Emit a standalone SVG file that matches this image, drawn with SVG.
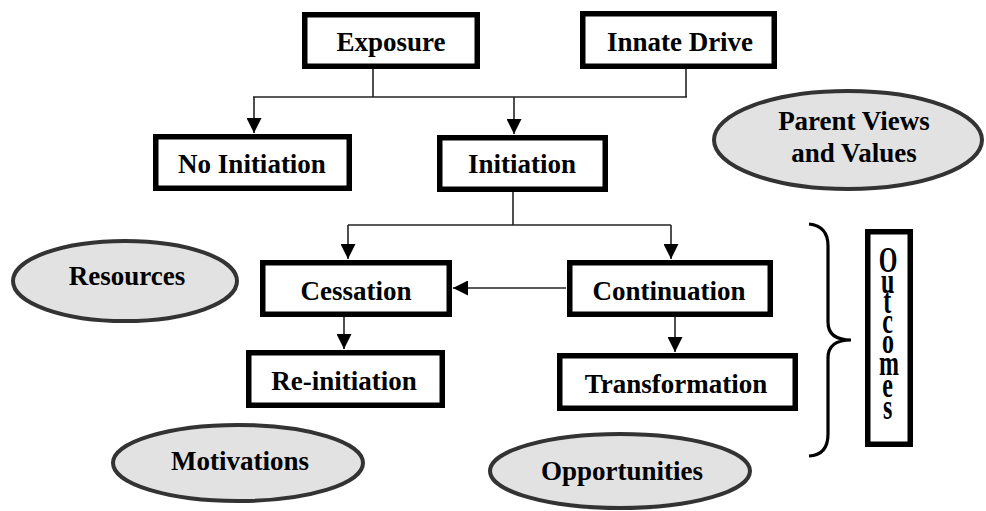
<svg xmlns="http://www.w3.org/2000/svg" width="986" height="511" viewBox="0 0 986 511">
<style>
.box{fill:#fff;stroke:#000;stroke-width:5.5}
.ell{fill:#e2e2e2;stroke:#333;stroke-width:4}
.t{font-family:"Liberation Serif","Times New Roman",serif;font-weight:bold;font-size:27px;fill:#000;text-anchor:middle}
.o{font-family:"Liberation Serif","Times New Roman",serif;font-weight:bold;font-size:24px;fill:#000}
.c{fill:none;stroke:#222;stroke-width:1.6}
</style>
<defs>
<marker id="ah" markerUnits="userSpaceOnUse" markerWidth="15" markerHeight="15" refX="15" refY="7.5" orient="auto">
<path d="M0,0 L15,7.5 L0,15 z" fill="#000"/>
</marker>
</defs>
<rect width="986" height="511" fill="#fff"/>
<g id="connectors">
<line class="c" x1="373" y1="69" x2="373" y2="97"/>
<line class="c" x1="686" y1="69" x2="686" y2="97"/>
<line class="c" x1="253" y1="97" x2="687" y2="97"/>
<line class="c" x1="254" y1="97" x2="254" y2="133" marker-end="url(#ah)"/>
<line class="c" x1="514" y1="97" x2="514" y2="134" marker-end="url(#ah)"/>
<line class="c" x1="513" y1="192" x2="513" y2="225"/>
<line class="c" x1="348" y1="225" x2="671" y2="225"/>
<line class="c" x1="348" y1="225" x2="348" y2="259" marker-end="url(#ah)"/>
<line class="c" x1="671" y1="225" x2="671" y2="259" marker-end="url(#ah)"/>
<line class="c" x1="566" y1="288" x2="453" y2="288" marker-end="url(#ah)"/>
<line class="c" x1="344" y1="317" x2="344" y2="349" marker-end="url(#ah)"/>
<line class="c" x1="675" y1="317" x2="675" y2="352" marker-end="url(#ah)"/>
<path d="M809,224 Q828,226 828,246 L828,322 Q828,340 851,340 Q828,340 828,358 L828,434 Q828,455 809,456" fill="none" stroke="#000" stroke-width="3.2"/>
</g>
<g id="exposure"><rect class="box" x="304.75" y="14.75" width="172.5" height="51.5"/><text class="t" x="391" y="51">Exposure</text></g>
<g id="innate-drive"><rect class="box" x="582.75" y="13.75" width="191.5" height="52.5"/><text class="t" x="680" y="51">Innate Drive</text></g>
<g id="no-initiation"><rect class="box" x="155.75" y="136.75" width="193.5" height="51.5"/><text class="t" x="252" y="173">No Initiation</text></g>
<g id="initiation"><rect class="box" x="439.75" y="137.75" width="165.5" height="51.5"/><text class="t" x="522" y="173">Initiation</text></g>
<g id="parent-views"><ellipse class="ell" cx="848" cy="140" rx="134" ry="49"/><text class="t" x="854" y="130">Parent Views</text><text class="t" x="854" y="162">and Values</text></g>
<g id="resources"><ellipse class="ell" cx="125" cy="281" rx="112" ry="40"/><text class="t" x="127" y="285">Resources</text></g>
<g id="cessation"><rect class="box" x="262.75" y="262.75" width="186.5" height="51.5"/><text class="t" x="356" y="300">Cessation</text></g>
<g id="continuation"><rect class="box" x="569.75" y="262.75" width="200.5" height="51.5"/><text class="t" x="669" y="300">Continuation</text></g>
<g id="re-initiation"><rect class="box" x="248.75" y="352.75" width="193.5" height="52.5"/><text class="t" x="344" y="390">Re-initiation</text></g>
<g id="transformation"><rect class="box" x="559.75" y="355.75" width="235.5" height="52.5"/><text class="t" x="676" y="393">Transformation</text></g>
<g id="outcomes"><rect class="box" x="867.75" y="231.75" width="42.5" height="212.5"/>
<text class="o" transform="scale(1,1.5)" x="878.7 881 883.3 882.3 882 879 882.3 883" y="181.3 195.3 208.7 222 235.3 250 264.7 279.3">Outcomes</text>
</g>
<g id="motivations"><ellipse class="ell" cx="238" cy="463" rx="125" ry="38"/><text class="t" x="240" y="470">Motivations</text></g>
<g id="opportunities"><ellipse class="ell" cx="620" cy="471" rx="130" ry="37"/><text class="t" x="622" y="480">Opportunities</text></g>
</svg>
